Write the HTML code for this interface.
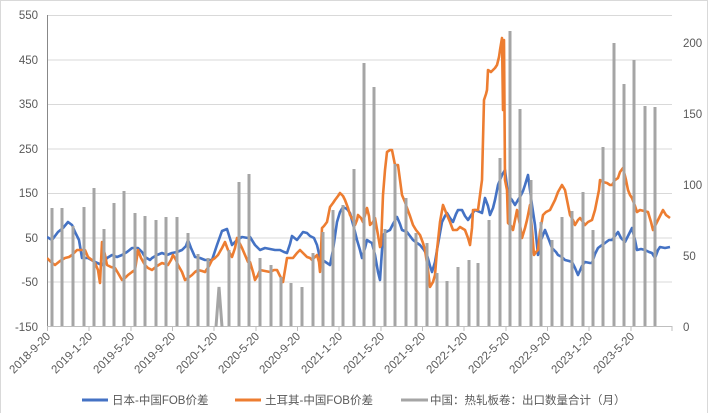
<!DOCTYPE html>
<html><head><meta charset="utf-8"><style>
html,body{margin:0;padding:0;background:#fff;width:712px;height:413px;overflow:hidden}
svg text{font-family:"Liberation Sans","Noto Sans CJK SC",sans-serif;fill:#595959;font-size:11.5px}
</style></head><body>
<svg width="712" height="413" viewBox="0 0 712 413" xmlns="http://www.w3.org/2000/svg">
<defs><clipPath id="c"><rect x="47" y="10" width="626" height="316.5"/></clipPath></defs>
<rect x="0.5" y="0.5" width="707" height="420" fill="none" stroke="#d9d9d9"/>
<g stroke="#d9d9d9" stroke-width="1">
<line x1="47" y1="15.5" x2="672" y2="15.5"/>
<line x1="47" y1="60" x2="672" y2="60"/>
<line x1="47" y1="104.5" x2="672" y2="104.5"/>
<line x1="47" y1="149" x2="672" y2="149"/>
<line x1="47" y1="193.5" x2="672" y2="193.5"/>
<line x1="47" y1="238" x2="672" y2="238"/>
<line x1="47" y1="282" x2="672" y2="282"/>
</g>
<line x1="47.5" y1="15" x2="47.5" y2="327" stroke="#888"/>
<line x1="47" y1="326.5" x2="672" y2="326.5" stroke="#bfbfbf"/>
<g stroke="#bfbfbf">
<line x1="47.5" y1="326" x2="47.5" y2="331"/><line x1="89" y1="326" x2="89" y2="331"/><line x1="131" y1="326" x2="131" y2="331"/><line x1="172.5" y1="326" x2="172.5" y2="331"/><line x1="214" y1="326" x2="214" y2="331"/><line x1="256" y1="326" x2="256" y2="331"/><line x1="297.5" y1="326" x2="297.5" y2="331"/><line x1="339" y1="326" x2="339" y2="331"/><line x1="381" y1="326" x2="381" y2="331"/><line x1="422.5" y1="326" x2="422.5" y2="331"/><line x1="464" y1="326" x2="464" y2="331"/><line x1="506" y1="326" x2="506" y2="331"/><line x1="547.5" y1="326" x2="547.5" y2="331"/><line x1="589" y1="326" x2="589" y2="331"/><line x1="631" y1="326" x2="631" y2="331"/><line x1="672" y1="326" x2="672" y2="331"/>
</g>
<g text-anchor="end">
<text x="38" y="19">550</text><text x="38" y="64">450</text><text x="38" y="108">350</text><text x="38" y="153">250</text><text x="38" y="197">150</text><text x="38" y="242">50</text><text x="38" y="286">-50</text><text x="38" y="331">-150</text>
</g>
<g>
<text x="683" y="47">200</text><text x="683" y="118">150</text><text x="683" y="189">100</text><text x="683" y="260">50</text><text x="683" y="331">0</text>
</g>
<g text-anchor="end">
<text transform="translate(51,337) rotate(-45)">2018-9-20</text>
<text transform="translate(93,337) rotate(-45)">2019-1-20</text>
<text transform="translate(135,337) rotate(-45)">2019-5-20</text>
<text transform="translate(176,337) rotate(-45)">2019-9-20</text>
<text transform="translate(218,337) rotate(-45)">2020-1-20</text>
<text transform="translate(260,337) rotate(-45)">2020-5-20</text>
<text transform="translate(301,337) rotate(-45)">2020-9-20</text>
<text transform="translate(343,337) rotate(-45)">2021-1-20</text>
<text transform="translate(385,337) rotate(-45)">2021-5-20</text>
<text transform="translate(426,337) rotate(-45)">2021-9-20</text>
<text transform="translate(468,337) rotate(-45)">2022-1-20</text>
<text transform="translate(510,337) rotate(-45)">2022-5-20</text>
<text transform="translate(551,337) rotate(-45)">2022-9-20</text>
<text transform="translate(593,337) rotate(-45)">2023-1-20</text>
<text transform="translate(635,337) rotate(-45)">2023-5-20</text>
</g>
<g clip-path="url(#c)">
<polyline fill="none" stroke="#4472c4" stroke-width="2.6" stroke-linejoin="round" points="47,237 52,240 58,232 63,228 68,222 72,225 75,232 79,240 82,258 88,258 95,262 102,265 107,258 112,255 117,257 122,255 127,252 132,248 138,248 142,252 145,257 150,260 152,258 157,255 162,253 167,255 172,253 177,252 182,250 186,246 188,240 191,248 195,257 200,258 205,260 212,260 217,245 222,231 227,229 232,245 237,240 242,237 248,238 250,237 255,245 260,250 265,248 270,249 275,250 280,250 284,252 287,253 290,244 292,236 297,240 303,232 307,233 310,236 314,238 317,245 320,258 324,261 327,263 330,265 333,250 337,222 340,212 343,207 347,209 350,213 354,228 357,240 360,250 362,258 365,248 367,240 370,242 372,243 375,255 378,272 380,280 383,235 386,232 390,230 393,224 397,217 400,224 402,230 407,232 410,236 413,240 417,243 420,245 424,250 427,255 430,266 432,272 435,262 437,250 440,233 442,222 445,216 447,213 450,218 453,222 456,214 458,210 462,210 465,216 468,220 472,214 475,210 480,212 482,213 485,198 488,206 490,215 493,208 495,200 498,185 502,175 505,170 508,195 512,200 515,205 518,200 520,197 523,191 525,185 528,175 530,190 532,205 535,225 538,255 541,240 545,230 549,240 552,248 556,252 558,255 562,257 565,260 569,261 572,262 575,268 578,275 582,266 585,262 590,263 592,263 595,254 598,248 602,245 605,243 609,240 612,240 615,236 618,232 621,238 625,242 628,236 632,228 635,240 637,250 641,249 645,250 649,252 652,253 655,258 658,250 660,247 665,248 670,247"/>
<polyline fill="none" stroke="#ed7d31" stroke-width="2.6" stroke-linejoin="round" points="47,258 51,262 55,265 60,261 65,258 69,257 72,255 77,250 81,250 85,250 88,257 92,260 95,263 98,270 100,283 102,242 105,255 107,265 111,267 115,268 118,273 122,280 125,278 128,275 132,272 135,270 138,250 141,258 145,265 148,268 152,270 157,266 162,263 165,264 168,265 171,260 173,255 176,260 178,265 182,272 185,280 188,278 192,275 195,272 198,270 202,271 205,272 209,266 212,260 215,258 218,255 222,248 225,242 228,250 232,257 235,248 237,238 240,244 242,248 245,255 248,262 250,262 253,272 255,280 258,275 260,270 265,271 270,272 274,270 277,270 280,276 283,282 285,270 287,258 290,258 293,258 297,253 300,250 304,254 307,257 310,258 312,260 315,257 317,255 319,262 320,272 322,228 324,226 327,222 329,212 330,207 333,203 335,200 338,196 340,193 343,196 345,200 348,208 350,215 353,220 355,225 357,220 358,215 361,218 363,222 365,215 367,208 369,216 370,225 373,222 375,218 378,235 380,247 381,245 383,195 385,170 387,152 390,150 392,150 395,165 398,165 400,180 402,195 405,202 407,208 410,216 413,225 416,230 420,235 423,243 425,250 428,270 430,287 433,282 435,275 437,250 440,222 443,205 445,210 447,215 450,222 453,230 457,230 460,227 465,230 468,238 470,245 472,228 473,210 476,210 478,210 480,195 482,180 483,140 484,100 486,94 487,90 488,70 491,72 493,70 495,68 497,65 499,57 500,50 502,38 503,110 504,40 505,180 507,190 508,223 511,226 513,230 515,220 517,210 520,225 522,238 525,228 527,220 530,205 532,230 534,255 536,252 538,250 540,232 543,215 546,212 550,210 553,204 555,200 558,192 562,185 565,190 567,200 570,215 573,220 575,225 578,220 580,218 583,222 585,225 588,222 592,220 595,210 597,200 599,190 600,180 603,182 607,183 610,185 612,185 615,180 618,178 620,172 623,168 626,180 628,190 630,195 632,198 635,206 637,212 640,210 644,211 648,212 651,222 653,230 656,224 658,220 661,214 663,210 666,215 670,218"/>
<path stroke="#a5a5a5" stroke-width="3" fill="none" d="M52 326V208M62 326V208M73 326V226M84 326V207M94 326V188M104 326V229M114 326V203M124 326V191M135 326V213M145 326V216M156 326V220M166 326V217M177 326V217M188 326V233M198 326V254M208 326V258M229 326V250M239 326V182M249 326V174M260 326V258M271 326V265M281 326V277M291 326V283M302 326V287M313 326V253M323 326V232M333 326V210M343 326V205M354 326V169M364 326V63M374 326V87M385 326V229M395 326V164M406 326V198M416 326V233M427 326V243M437 326V273M447 326V281M458 326V267M469 326V260M478 326V263M489 326V220M500 326V158M510 326V31M520 326V109M531 326V180M541 326V222M552 326V240M562 326V217M572 326V211M583 326V192M593 326V230M603 326V147M614 326V43M624 326V84M634 326V60M645 326V106M655 326V107"/>
<polyline fill="none" stroke="#a5a5a5" stroke-width="3" points="215,340 219,287 223,340"/>
</g>
<line x1="82" y1="400" x2="108" y2="400" stroke="#4472c4" stroke-width="3"/>
<text x="112" y="404">日本-中国FOB价差</text>
<line x1="235" y1="400" x2="261" y2="400" stroke="#ed7d31" stroke-width="3"/>
<text x="265" y="404">土耳其-中国FOB价差</text>
<line x1="401" y1="400" x2="428" y2="400" stroke="#a5a5a5" stroke-width="3"/>
<text x="430" y="404">中国：热轧板卷：出口数量合计（月）</text>
</svg>
</body></html>
